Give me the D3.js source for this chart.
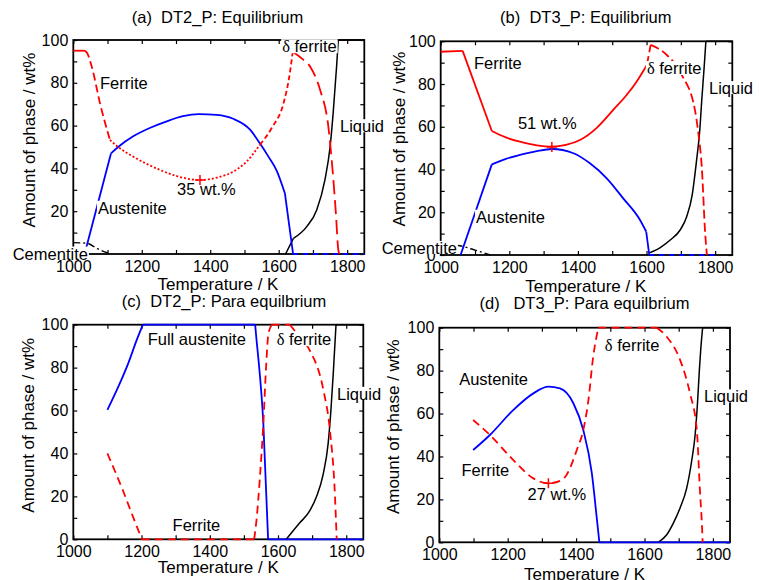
<!DOCTYPE html>
<html>
<head>
<meta charset="utf-8">
<script src="https://cdn.jsdelivr.net/npm/d3@7"></script>
<style>
  body { margin: 0; background: #fff; }
  text { font-family: "Liberation Sans", Arial, sans-serif; }
</style>
</head>
<body>
<svg id="chart" width="759" height="580"></svg>
<script>
// ---------- data (temperature K, amount of phase wt%) ----------
const xTicks = [1000, 1100, 1200, 1300, 1400, 1500, 1600, 1700, 1800];
const yTicks = [0, 10, 20, 30, 40, 50, 60, 70, 80, 90, 100];

// (a) DT2_P equilibrium
const aFerrite = [[1000, 95], [1034, 95], [1040, 94], [1054, 87.5], [1078, 70.4], [1107, 53.3], [1131, 50],
    [1175, 45.5], [1253, 39.3], [1300, 36.5], [1370, 34.6], [1420, 35.7], [1467, 38.5], [1505, 43],
    [1545, 51], [1580, 59], [1614, 70.4], [1630, 82], [1641, 94.5], [1667, 91.4], [1692, 87.5],
    [1721, 76.6], [1745, 59.5], [1759, 36], [1767, 19], [1774, 2], [1777, 0]];
const aAustenite = [[1038, 3], [1110, 47], [1131, 50], [1175, 55], [1225, 59], [1273, 62], [1320, 64.4],
    [1366, 65.4], [1419, 65], [1467, 63.2], [1517, 58], [1545, 51.7], [1570, 45.5], [1594, 39],
    [1618, 28.4], [1642, 0], [1850, 0]];
const aLiquid = [[1620, 0], [1643, 7.3], [1682, 12.8], [1711, 20.6], [1735, 34.6], [1750, 50],
    [1759, 65.7], [1769, 87.5], [1774, 100], [1850, 100]];
const aCementite = [[1000, 5.3], [1040, 5], [1070, 2.5], [1110, 0]];
const aMarker = [1370, 34.6];

// (b) DT3_P equilibrium
const bFerrite = [[1000, 95.1], [1064, 95.5], [1149, 58], [1190, 55], [1231, 53], [1280, 51.3],
    [1324, 50.7], [1365, 51.5], [1406, 53.8], [1455, 59.5], [1503, 67.9], [1540, 74.5], [1571, 81.1],
    [1601, 88.9], [1612, 98.3], [1635, 96.5], [1659, 93.6], [1703, 84.2], [1741, 67.9], [1751, 57],
    [1761, 41.3], [1771, 10], [1776, 0]];
const bAustenite = [[1058, 0], [1149, 42.4], [1190, 45], [1231, 46.8], [1280, 48.6], [1324, 49.6],
    [1387, 47.6], [1435, 42.9], [1484, 35.9], [1532, 26.5], [1581, 16.4], [1599, 11],
    [1608, 0], [1800, 0]];
const bLiquid = [[1608, 1], [1640, 3.5], [1669, 7], [1698, 11.7], [1717, 17.9], [1733, 28], [1746, 44.5],
    [1755, 58], [1761, 72.5], [1768, 88], [1773, 100], [1850, 100]];
const bCementite = [[1000, 5], [1056, 4.3], [1100, 2.3], [1145, 0]];
const bMarker = [1324, 50.5];

// (c) DT2_P para equilibrium
const cFerrite = [[1100, 40], [1146, 22.5], [1175, 10.5], [1201, 0], [1530, 0], [1537, 9], [1547, 29],
    [1557, 54], [1565, 80], [1572, 96], [1582, 100], [1635, 100], [1662, 94.5], [1693, 88], [1733, 69.6],
    [1752, 51], [1767, 20], [1772, 0]];
const cAustenite = [[1100, 60.3], [1132, 71.1], [1161, 82], [1186, 92.9], [1204, 100], [1533, 100],
    [1537, 93], [1542, 85], [1557, 54], [1571, 0], [1850, 0]];
const cLiquid = [[1624, 0], [1662, 7.4], [1690, 12.5], [1713, 19.9], [1732, 30], [1747, 44.7],
    [1755, 60], [1762, 77.4], [1770, 100], [1850, 100]];

// (d) DT3_P para equilibrium
const dFerrite = [[1099, 57], [1148, 50], [1216, 38.4], [1275, 29.8], [1319, 27.5], [1358, 29],
    [1372, 31.4], [1402, 43], [1421, 52.3], [1436, 66.3], [1450, 86.5], [1465, 100], [1636, 100],
    [1665, 95.8], [1704, 85], [1733, 69.4], [1753, 52.3], [1762, 24.4], [1769, 4.2], [1770, 0]];
const dAustenite = [[1099, 43], [1148, 50], [1216, 61.6], [1275, 69.4], [1319, 72.5], [1353, 71.7],
    [1392, 64.8], [1421, 52.3], [1446, 32.2], [1460, 12], [1468, 0], [1850, 0]];
const dLiquid = [[1640, 0], [1665, 3.5], [1684, 8.8], [1704, 16], [1723, 25], [1738, 38], [1748, 50],
    [1755, 65], [1760, 79], [1766, 93], [1770, 100], [1850, 100]];
const dMarker = [1319, 27.5];

// ---------- layout ----------
const svg = d3.select("#chart");
const red = "#ff0000", blue = "#0000ff", black = "#000000";

// parts: [from T, to T, dash] -- each part is its own path, so part ends are sharp corners
const panels = [
    {
        left: 73.3, top: 40, w: 291, h: 214,
        title: "(a)  DT2_P: Equilibrium", titleX: 217.5, titleY: 22.5,
        xTitleX: 218, xTitleY: 290, yTitleX: 35, yTitleY: 140,
        series: [
            { data: aCementite, color: black, width: 1.4, parts: [[1000, 1850, "7,3,2,3"]] },
            { data: aLiquid, color: black, width: 1.5, parts: [[1620, 1643], [1643, 1774], [1774, 1850]] },
            { data: aAustenite, color: blue, width: 1.8,
              parts: [[1038, 1110], [1110, 1618], [1618, 1642], [1642, 1850, "5,5"]] },
            { data: aFerrite, color: red, width: 1.8,
              parts: [[1000, 1034], [1034, 1107, "8,4"], [1107, 1545, "2,2"], [1545, 1641, "5,3"], [1641, 1780, "14,6"]] }
        ],
        marker: aMarker,
        labels: [
            { text: "Ferrite", T: 1078, v: 77 },
            { text: "Austenite", T: 1072, v: 18.8 },
            { text: "35 wt.%", T: 1303, v: 27.7 },
            { text: "ferrite", T: 1610, v: 94.3, delta: true },
            { text: "Liquid", T: 1779, v: 56.9 },
            { text: "Cementite", T: 823, v: -2.6 }
        ]
    },
    {
        left: 440.7, top: 41.3, w: 291.6, h: 213.7,
        title: "(b)  DT3_P: Equilibrium", titleX: 585.8, titleY: 22.5,
        xTitleX: 585.8, xTitleY: 291.5, yTitleX: 405, yTitleY: 139,
        series: [
            { data: bCementite, color: black, width: 1.4, parts: [[1000, 1850, "7,3,2,3"]] },
            { data: bLiquid, color: black, width: 1.5, parts: [[1608, 1773], [1773, 1850]] },
            { data: bAustenite, color: blue, width: 1.8,
              parts: [[1058, 1149], [1149, 1599], [1599, 1608], [1608, 1800, "5,5"]] },
            { data: bFerrite, color: red, width: 1.8,
              parts: [[1000, 1064], [1064, 1149], [1149, 1601], [1601, 1612, "9,4"], [1612, 1780, "9,4"]] }
        ],
        marker: bMarker,
        labels: [
            { text: "Ferrite", T: 1097, v: 87 },
            { text: "51 wt.%", T: 1225, v: 59 },
            { text: "Austenite", T: 1103, v: 15.1 },
            { text: "ferrite", T: 1601, v: 84.7, delta: true },
            { text: "Liquid", T: 1782, v: 75.3 },
            { text: "Cementite", T: 828, v: 0.5 }
        ]
    },
    {
        left: 73.3, top: 324.7, w: 290, h: 214.6,
        title: "(c)  DT2_P: Para equilbrium", titleX: 224, titleY: 307.3,
        xTitleX: 218.3, xTitleY: 572.7, yTitleX: 34, yTitleY: 425.3,
        series: [
            { data: cLiquid, color: black, width: 1.5, parts: [[1624, 1770], [1770, 1850]] },
            { data: cAustenite, color: blue, width: 1.8,
              parts: [[1100, 1204], [1204, 1533], [1533, 1571], [1571, 1850]] },
            { data: cFerrite, color: red, width: 1.8,
              parts: [[1100, 1201, "8,5"], [1201, 1530, "8,5"], [1530, 1582, "8,5"], [1582, 1635, "8,5"], [1635, 1772, "8,5"]] }
        ],
        labels: [
            { text: "Full austenite", T: 1218, v: 90.5 },
            { text: "ferrite", T: 1596, v: 90.5, delta: true },
            { text: "Liquid", T: 1773, v: 65 },
            { text: "Ferrite", T: 1291, v: 4 }
        ]
    },
    {
        left: 439.3, top: 327.7, w: 290.7, h: 214.6,
        title: "(d)   DT3_P: Para equilbrium", titleX: 584.5, titleY: 309,
        xTitleX: 584.6, xTitleY: 579.5, yTitleX: 399, yTitleY: 426.7,
        series: [
            { data: dLiquid, color: black, width: 1.5, parts: [[1640, 1770], [1770, 1850]] },
            { data: dAustenite, color: blue, width: 1.8, parts: [[1099, 1468], [1468, 1850]] },
            { data: dFerrite, color: red, width: 1.8,
              parts: [[1099, 1465, "8,5"], [1465, 1636, "8,5"], [1636, 1770, "8,5"]] }
        ],
        marker: dMarker,
        labels: [
            { text: "ferrite", T: 1484, v: 89.3, delta: true },
            { text: "Austenite", T: 1058, v: 73.3 },
            { text: "Liquid", T: 1774, v: 65.2 },
            { text: "Ferrite", T: 1065, v: 30.7 },
            { text: "27 wt.%", T: 1258, v: 19.9 }
        ]
    }
];

const labelLayer = [];

panels.forEach(function (p) {
    const x = d3.scaleLinear().domain([1000, 1850]).range([p.left, p.left + p.w]);
    const y = d3.scaleLinear().domain([0, 100]).range([p.top + p.h, p.top]);
    const g = svg.append("g");

    // axes, ticks inward on all four sides
    const fmtX = d => d % 200 === 0 ? d : "";
    const fmtY = d => d % 20 === 0 ? d : "";
    const axes = [
        [d3.axisBottom(x).tickValues(xTicks).tickFormat(fmtX).tickSize(-4).tickPadding(6.5), "translate(0," + (p.top + p.h) + ")"],
        [d3.axisTop(x).tickValues(xTicks).tickFormat("").tickSize(-4), "translate(0," + p.top + ")"],
        [d3.axisLeft(y).tickValues(yTicks).tickFormat(fmtY).tickSize(-4).tickPadding(5), "translate(" + p.left + ",0)"],
        [d3.axisRight(y).tickValues(yTicks).tickFormat("").tickSize(-4), "translate(" + (p.left + p.w) + ",0)"]
    ];
    axes.forEach(function (a) {
        const ag = g.append("g").attr("transform", a[1]).call(a[0]);
        ag.select(".domain").remove();
        ag.selectAll("line").attr("stroke", black).attr("stroke-width", 1.2);
        ag.selectAll("text").attr("font-size", 16).attr("fill", black)
            .style("font-family", '"Liberation Sans", Arial, sans-serif');
    });

    g.append("rect")
        .attr("x", p.left).attr("y", p.top)
        .attr("width", p.w).attr("height", p.h)
        .attr("fill", "none").attr("stroke", black).attr("stroke-width", 1.8);

    // titles
    g.append("text").attr("x", p.titleX).attr("y", p.titleY)
        .attr("text-anchor", "middle").attr("font-size", 16.5)
        .style("white-space", "pre").text(p.title);
    g.append("text").attr("x", p.xTitleX).attr("y", p.xTitleY)
        .attr("text-anchor", "middle").attr("font-size", 17)
        .text("Temperature / K");
    g.append("text")
        .attr("transform", "translate(" + p.yTitleX + "," + p.yTitleY + ") rotate(-90)")
        .attr("text-anchor", "middle").attr("font-size", 17)
        .text("Amount of phase / wt%");

    // curves
    const line = d3.line().x(d => x(d[0])).y(d => y(d[1])).curve(d3.curveMonotoneX);
    p.series.forEach(function (s) {
        s.parts.forEach(function (part) {
            const pts = s.data.filter(d => d[0] >= part[0] && d[0] <= part[1]);
            if (pts.length < 2) return;
            g.append("path")
                .attr("d", line(pts))
                .attr("fill", "none")
                .attr("stroke", s.color)
                .attr("stroke-width", s.width)
                .attr("stroke-linejoin", "round")
                .attr("stroke-dasharray", part[2] || null);
        });
    });

    labelLayer.push({ p: p, x: x, y: y });
});

// labels with white background, drawn over everything
labelLayer.forEach(function (l) {
    const g = svg.append("g");
    l.p.labels.forEach(function (lab) {
        const lg = g.append("g");
        const t = lg.append("text")
            .attr("x", l.x(lab.T)).attr("y", l.y(lab.v))
            .attr("font-size", 16.5).attr("fill", black);
        if (lab.delta) {
            t.append("tspan").style("font-family", '"Liberation Serif", "DejaVu Serif", serif').text("δ");
            t.append("tspan").text(" " + lab.text);
        } else {
            t.text(lab.text);
        }
        const bb = t.node().getBBox();
        lg.insert("rect", "text")
            .attr("x", bb.x - 1).attr("y", bb.y + 2)
            .attr("width", bb.width + 2).attr("height", bb.height - 5)
            .attr("fill", "#fff");
    });
    if (l.p.marker) {
        const m = l.p.marker;
        const cx = l.x(m[0]), cy = l.y(m[1]);
        g.append("path")
            .attr("d", "M" + (cx - 5) + "," + cy + "H" + (cx + 5) + "M" + cx + "," + (cy - 5) + "V" + (cy + 5))
            .attr("stroke", red).attr("stroke-width", 1.5);
    }
});
</script>
</body>
</html>
